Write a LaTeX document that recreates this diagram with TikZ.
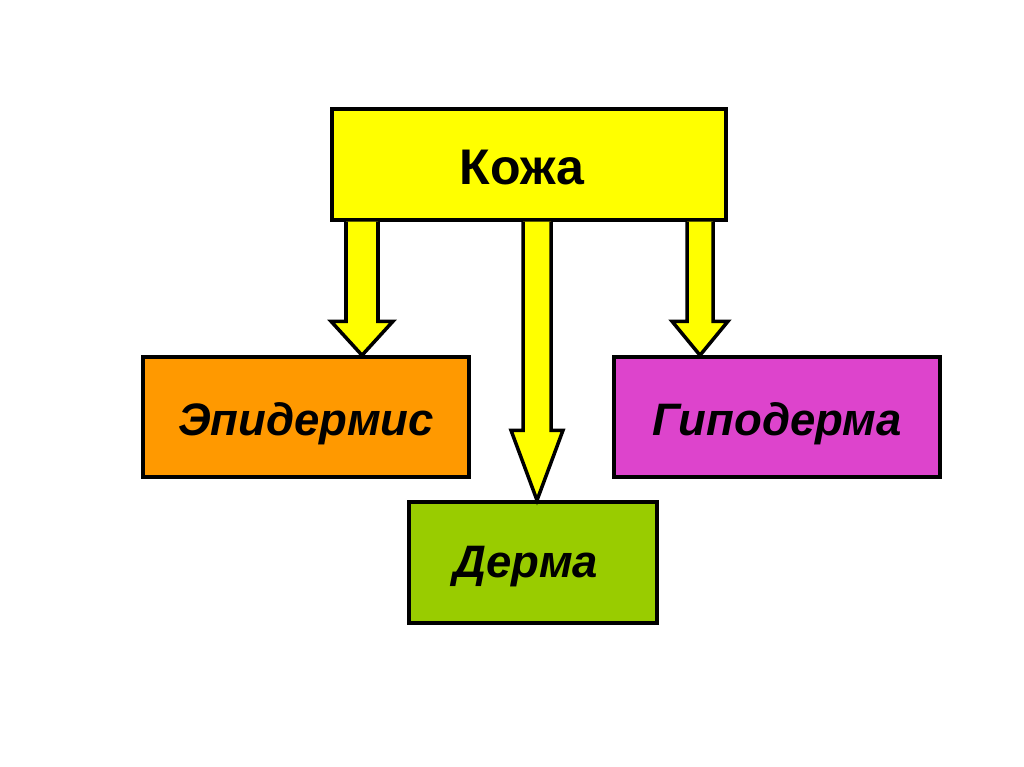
\documentclass[tikz,border=0pt]{standalone}
\usepackage{fontspec}
\setmainfont{Liberation Sans}
\usepackage{xcolor}
\usepackage{tikz}
\usetikzlibrary{calc}

\definecolor{kozhayellow}{HTML}{FFFF00}
\definecolor{epidorange}{HTML}{FF9900}
\definecolor{gipomagenta}{HTML}{DD44CC}
\definecolor{dermagreen}{HTML}{99CC00}

% block arrow: #1 x of the shaft, #2 from node, #3 to node, #4 half shaft, #5 half head, #6 head length
\newcommand{\blockdown}[6]{%
    \draw [blockarrow]
        ($(#1,0 |- #2.south)+(-#4,0)$) -- ($(#1,0 |- #3.north)+(-#4,-#6)$)
        -- ($(#1,0 |- #3.north)+(-#5,-#6)$) -- (#1,0 |- #3.north)
        -- ($(#1,0 |- #3.north)+(#5,-#6)$) -- ($(#1,0 |- #3.north)+(#4,-#6)$)
        -- ($(#1,0 |- #2.south)+(#4,0)$);
}

\begin{document}
\begin{tikzpicture}[
    x=0.02cm, y=-0.02cm,
    box/.style={rectangle, draw, line width=2pt, inner sep=0pt, text depth=0pt, text height=0.72cm,
        font=\fontsize{25.9}{30}\selectfont\bfseries\itshape},
    blockarrow/.style={draw, line width=2pt, fill=kozhayellow, line join=miter}
]
    \useasboundingbox (0,0) rectangle (1024,767);

    % Nodes
    \node (kozha) [box, fill=kozhayellow, minimum width=7.88cm, minimum height=2.22cm, text height=0.82cm,
        font=\fontsize{28.5}{34}\selectfont\bfseries] at (529,164.5) {\hspace*{-0.28cm}Кожа};
    \node (epid) [box, fill=epidorange, minimum width=6.52cm, minimum height=2.4cm] at (306,417) {Эпидермис};
    \node (gipo) [box, fill=gipomagenta, minimum width=6.52cm, minimum height=2.4cm] at (777,417) {Гиподерма};
    \node (derma) [box, fill=dermagreen, minimum width=4.96cm, minimum height=2.42cm, text height=0.58cm]
        at (533,562.5) {\hspace*{-0.28cm}Дерма};

    % Arrows
    \blockdown{362}{kozha}{epid}{16}{31}{34}
    \blockdown{537}{kozha}{derma}{14}{26}{70}
    \blockdown{700}{kozha}{gipo}{13}{28}{34}

\end{tikzpicture}
\end{document}
